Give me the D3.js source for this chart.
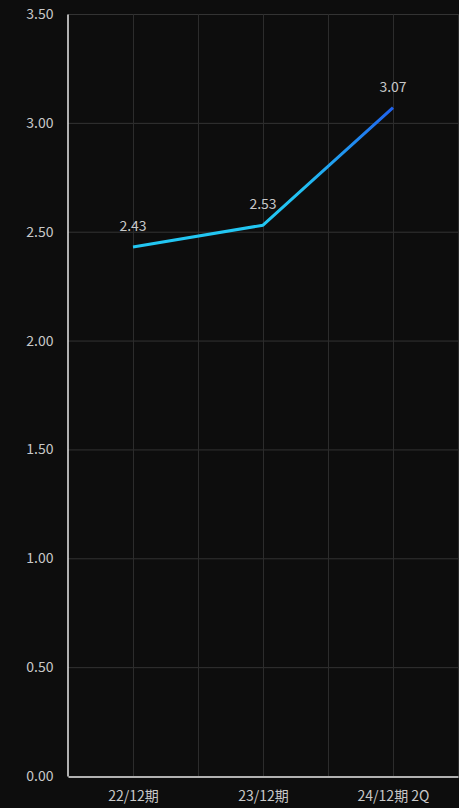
<!DOCTYPE html>
<html>
<head>
<meta charset="utf-8">
<script src="https://cdn.jsdelivr.net/npm/d3@7/dist/d3.min.js"></script>
<style>
  html, body { margin: 0; padding: 0; background: #0d0d0d; }
  svg { display: block; }
  text { font-family: "Noto Sans CJK JP", "Noto Sans", sans-serif; }
</style>
</head>
<body>
<svg id="chart" width="459" height="808"></svg>
<script>
const categories = ["22/12期", "23/12期", "24/12期 2Q"];
const values = [2.43, 2.53, 3.07];
const yTicks = [0, 0.5, 1, 1.5, 2, 2.5, 3, 3.5];

const width = 459, height = 808;
const margin = { top: 14, right: 1, bottom: 32, left: 68 };

const svg = d3.select("#chart");
svg.append("rect").attr("width", width).attr("height", height).attr("fill", "#0d0d0d");

const x = d3.scalePoint()
  .domain(categories)
  .range([margin.left, width - margin.right])
  .padding(0.5);

const y = d3.scaleLinear()
  .domain([0, 3.5])
  .range([height - margin.bottom, margin.top]);

const step = x.step();
// vertical grid: category centres and midpoints between them
const vLines = [];
categories.forEach(c => {
  vLines.push(x(c) - step / 2);
  vLines.push(x(c));
});
vLines.push(x(categories[categories.length - 1]) + step / 2);

const grid = svg.append("g");
grid.selectAll("line.h").data(yTicks.filter(t => t > 0)).join("line")
  .attr("x1", margin.left).attr("x2", width - margin.right)
  .attr("y1", d => y(d) + 0.5).attr("y2", d => y(d) + 0.5)
  .attr("stroke", "#333").attr("stroke-width", 1);
grid.selectAll("line.v").data(vLines.slice(1)).join("line")
  .attr("x1", d => Math.round(d) + 0.5).attr("x2", d => Math.round(d) + 0.5)
  .attr("y1", margin.top).attr("y2", height - margin.bottom)
  .attr("stroke", "#2c2c2c").attr("stroke-width", 1);

// axes
const yAxis = d3.axisLeft(y).tickValues(yTicks).tickSize(0).tickPadding(14)
  .tickFormat(d3.format(".2f"));
const gy = svg.append("g").attr("transform", `translate(${margin.left - 0.5},0)`).call(yAxis);
gy.select(".domain").attr("stroke", "#e8e8e8").attr("stroke-width", 1.5);
gy.selectAll("text").attr("fill", "#c8c8c8").attr("font-size", 14);

const xAxis = d3.axisBottom(x).tickSize(0).tickPadding(15);
const gx = svg.append("g").attr("transform", `translate(0,${height - margin.bottom + 0.5})`).call(xAxis);
gx.select(".domain").attr("stroke", "#e8e8e8").attr("stroke-width", 1.5);
gx.selectAll("text").attr("fill", "#c8c8c8").attr("font-size", 14);

// line gradient: cyan turning to blue over the final segment
const defs = svg.append("defs");
const grad = defs.append("linearGradient").attr("id", "lineGrad")
  .attr("gradientUnits", "userSpaceOnUse")
  .attr("x1", x(categories[1])).attr("x2", x(categories[2]))
  .attr("y1", 0).attr("y2", 0);
grad.append("stop").attr("offset", "0%").attr("stop-color", "#22c6f2");
grad.append("stop").attr("offset", "30%").attr("stop-color", "#22c0f2");
grad.append("stop").attr("offset", "100%").attr("stop-color", "#1f62ee");

const data = categories.map((c, i) => ({ c, v: values[i] }));
const line = d3.line().x(d => x(d.c)).y(d => y(d.v));

svg.append("path").datum(data)
  .attr("d", line)
  .attr("fill", "none")
  .attr("stroke", "url(#lineGrad)")
  .attr("stroke-width", 3)
  .attr("stroke-linejoin", "round");

svg.append("g").selectAll("text").data(data).join("text")
  .attr("x", d => x(d.c))
  .attr("y", d => y(d.v) - 16)
  .attr("text-anchor", "middle")
  .attr("fill", "#c8c8c8")
  .attr("font-size", 14)
  .text(d => d3.format(".2f")(d.v));
</script>
</body>
</html>
